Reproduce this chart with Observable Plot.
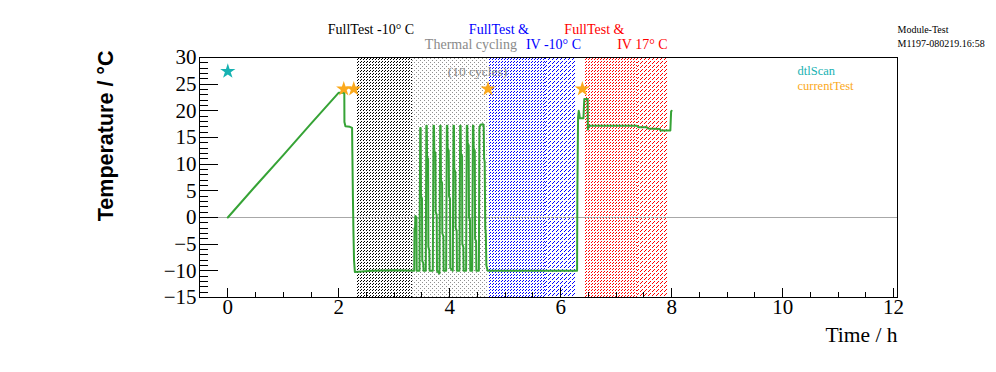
<!DOCTYPE html>
<html><head><meta charset="utf-8">
<script src="https://cdn.jsdelivr.net/npm/d3@7"></script>
<script src="https://cdn.jsdelivr.net/npm/@observablehq/plot@0.6"></script>
<style>html,body{margin:0;padding:0;background:#fff}#chart{width:996px;height:372px}</style>
</head><body><div id="chart"></div>
<script>
// ---- data ----
const timeH = [0,0.5,1.0,1.5,2.0,2.1,2.102,2.12,2.2,2.24,2.245,2.255,2.265,2.275,2.29,2.6,3.0,3.36,
3.365,3.375,3.38,3.40,3.405,3.455,
3.468,3.476,3.482,3.500,3.505,3.522,3.528,3.568,
3.578,3.586,3.592,3.610,3.615,3.632,3.638,3.695,
3.708,3.716,3.722,3.742,3.747,3.765,3.770,3.815,
3.828,3.836,3.842,3.862,3.867,3.885,3.890,3.935,
3.948,3.956,3.962,3.982,3.987,4.005,4.010,4.055,
4.068,4.076,4.082,4.102,4.107,4.125,4.130,4.175,
4.188,4.196,4.202,4.222,4.227,4.245,4.250,4.295,
4.308,4.316,4.322,4.342,4.347,4.365,4.370,4.405,
4.418,4.426,4.432,4.452,4.457,4.475,4.480,4.525,
4.535,4.555,4.600,4.612,4.620,4.630,4.640,4.650,4.660,4.685,
5.0,5.5,6.0,6.295,6.300,6.313,6.325,6.335,6.345,6.410,6.425,6.485,6.490,6.505,
7.0,7.376,7.400,7.556,7.570,7.790,7.800,7.976,7.990,8.0];
const tempC = [0,5.9,11.7,17.6,23.4,23.4,17.9,17.1,17.0,16.8,12.2,3.7,-3.0,-8.0,-10.2,-10.0,-9.9,-10.0,
-2.0,-2.5,0.3,0.0,-10.0,-10.0,
16.8,16.8,4.0,3.6,-8.2,-8.5,-10.0,-10.0,
17.2,17.2,11.3,11.0,-5.5,-6.2,-10.0,-10.0,
17.2,17.2,12.5,12.0,1.0,0.5,-10.0,-10.5,
17.2,17.2,7.0,6.5,-3.0,-3.5,-10.0,-10.0,
17.2,17.2,13.0,12.5,4.0,3.5,-9.5,-10.0,
17.2,17.2,9.0,8.5,-2.0,-2.5,-10.0,-10.0,
17.2,17.2,12.0,11.5,-5.0,-5.5,-10.0,-10.0,
17.2,17.2,14.0,13.5,0.0,-0.5,-10.0,-10.0,
17.2,17.2,13.0,12.5,-4.0,-4.5,-10.0,-10.0,
16.8,17.4,17.5,17.2,11.0,10.5,-2.0,-3.0,-9.0,-10.0,
-10.0,-10.0,-10.0,-10.0,4.75,18.8,20.0,19.5,18.6,18.6,22.2,22.2,16.5,17.2,
17.2,17.2,16.9,16.9,16.7,16.6,16.3,16.3,19.9,20.0];

const dtlScanT = [0];
const dtlScanV = [27.4];
const currentTestT = [2.09, 2.27, 4.69, 6.39];
const currentTestV = [24.1, 24.1, 24.1, 24.1];

const zoneStart = [2.34, 3.33, 4.71, 5.72, 6.43, 7.38];
const zoneEnd   = [3.33, 4.70, 5.72, 6.27, 7.38, 7.92];
const zonePattern = ["denseBlack", "dotsGray", "denseBlue", "sparseBlue", "denseRed", "sparseRed"];

const row1T = [2.58, 4.886, 6.607];
const row1Text = ["FullTest -10° C", "FullTest &", "FullTest &"];
const row1Color = ["#000000", "#0000ff", "#ff0000"];
const row2T = [4.382, 5.87, 7.472];
const row2Text = ["Thermal cycling", "IV -10° C", "IV 17° C"];
const row2Color = ["#8a8a8a", "#0000ff", "#ff0000"];

const legendText = ["dtlScan", "currentTest"];
const legendColor = ["#17b2b2", "#fba91c"];
const infoText = ["Module-Test", "M1197-080219.16:58"];

const yMajor = d3.range(-15, 31, 5);
const yMinor = d3.range(-15, 31, 1);
const xMajor = d3.range(0, 13, 2);
const xMinor = d3.range(0.5, 12.01, 0.5);

// ---- build ----
const pts = timeH.map((t, i) => ({t, v: tempC[i]}));
const dtl = dtlScanT.map((t, i) => ({t, v: dtlScanV[i]}));
const cur = currentTestT.map((t, i) => ({t, v: currentTestV[i]}));
const zones = zoneStart.map((s, i) => ({x1: s, x2: zoneEnd[i], p: zonePattern[i]}));
const row1 = row1T.map((t, i) => ({t, s: row1Text[i], c: row1Color[i]}));
const row2 = row2T.map((t, i) => ({t, s: row2Text[i], c: row2Color[i]}));

const serif = "'Liberation Serif', 'Times New Roman', serif";

const svg = Plot.plot({
  width: 996, height: 372,
  marginLeft: 199, marginRight: 99, marginTop: 57, marginBottom: 75,
  x: {domain: [-0.51, 12.07]},
  y: {domain: [-15, 30]},
  style: {fontFamily: serif, background: "white", overflow: "visible", color: "black"},
  marks: [
    ...zones.map(z => Plot.rect([z], {x1: "x1", x2: "x2", fill: `url(#${z.p})`})),
    Plot.ruleY([0], {stroke: "#a8a8a8", strokeWidth: 1}),
    Plot.line(pts, {x: "t", y: "v", stroke: "#36a336", strokeWidth: 2}),
    Plot.dot(dtl, {x: "t", y: "v", symbol: "star", r: 4.8, fill: legendColor[0], stroke: "none"}),
    Plot.dot(cur, {x: "t", y: "v", symbol: "star", r: 4.8, fill: legendColor[1], stroke: "none"}),
    Plot.axisY(yMinor, {tickSize: -9, fill: "none", label: null}),
    Plot.axisY(yMajor, {tickSize: -19, fill: "none", label: null}),
    Plot.axisY(yMajor, {tickSize: 0, tickPadding: 3, fontSize: 21, label: null, fill: "black"}),
    Plot.axisX(xMinor, {tickSize: -5, fill: "none", label: null}),
    Plot.axisX(xMajor, {tickSize: -9, fill: "none", label: null}),
    Plot.axisX(xMajor, {tickSize: 0, tickPadding: 2, fontSize: 21, label: null, fill: "black"}),
    Plot.frame({stroke: "black"}),
    Plot.text(row1, {x: "t", text: "s", fill: "c", frameAnchor: "top", dy: -33, fontSize: 14}),
    Plot.text(row2, {x: "t", text: "s", fill: "c", frameAnchor: "top", dy: -18, fontSize: 14}),
    Plot.text(["(10 cycles)"], {x: 4.5, frameAnchor: "top", dy: 9, fontSize: 13.5, fill: "#8a8a8a"}),
    Plot.text([legendText[0]], {frameAnchor: "top-right", dx: -100, dy: 9, textAnchor: "start", fontSize: 12.5, fill: legendColor[0]}),
    Plot.text([legendText[1]], {frameAnchor: "top-right", dx: -100, dy: 24, textAnchor: "start", fontSize: 12.5, fill: legendColor[1]}),
    Plot.text([infoText[0]], {frameAnchor: "top-right", dy: -32, textAnchor: "start", fontSize: 10}),
    Plot.text([infoText[1]], {frameAnchor: "top-right", dy: -18, textAnchor: "start", fontSize: 10}),
    Plot.text(["Temperature / °C"], {frameAnchor: "top-left", rotate: -90, dx: -102, dy: -7, textAnchor: "end", fontSize: 21.5, fontWeight: "bold", fontFamily: "'Liberation Sans', Arial, sans-serif"}),
    Plot.text(["Time / h"], {frameAnchor: "bottom-right", dy: 44, textAnchor: "end", fontSize: 21.5})
  ]
});

// hatch patterns
const defs = document.createElementNS("http://www.w3.org/2000/svg", "defs");
function px(x, y, c) { return `<rect x="${x}" y="${y}" width="1" height="1" fill="${c}"/>`; }
function dense(id, c) {
  return `<pattern id="${id}" patternUnits="userSpaceOnUse" width="3" height="3">${px(0,2,c)}${px(1,1,c)}</pattern>`;
}
function sparse(id, c) {
  return `<pattern id="${id}" patternUnits="userSpaceOnUse" width="4" height="4">${px(0,3,c)}${px(1,2,c)}${px(2,1,c)}</pattern>`;
}
function dots(id, c) {
  return `<pattern id="${id}" patternUnits="userSpaceOnUse" width="4" height="4">${px(0,0,c)}${px(2,2,c)}</pattern>`;
}
defs.innerHTML = dense("denseBlack", "#000") + dots("dotsGray", "#909090") + dense("denseBlue", "#0000ff") +
  sparse("sparseBlue", "#0000ff") + dense("denseRed", "#ff0000") + sparse("sparseRed", "#ff0000");
svg.insertBefore(defs, svg.firstChild);
svg.setAttribute("shape-rendering", "crispEdges");
svg.querySelectorAll("g[aria-label='line'] path, g[aria-label='dot'] path, text").forEach(p => p.setAttribute("shape-rendering", "auto"));
document.getElementById("chart").appendChild(svg);
</script>
</body></html>
